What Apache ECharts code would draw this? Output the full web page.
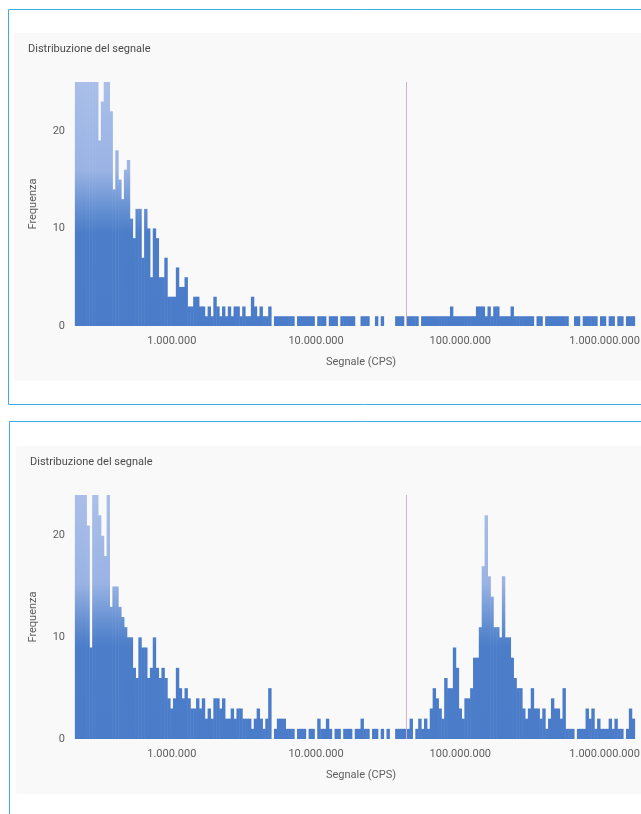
<!DOCTYPE html>
<html>
<head>
<meta charset="utf-8">
<script src="https://cdn.jsdelivr.net/npm/echarts@6/dist/echarts.min.js"></script>
<style>
  html, body { margin: 0; padding: 0; background: #ffffff; overflow: hidden; }
  #chart { width: 720px; height: 814px; }
</style>
</head>
<body>
<div id="chart"></div>
<script>
// ---- Data ----
// Histogram bins on a log10 CPS scale: bin i spans 10^(binStartLog + i*binStepLog) .. next
const binStartLog = 5.33;
const binStepLog = 0.02;

// Top panel: frequencies per bin
const topCounts = [
  25,25,25,25,25,25,25,25,
  19,23,25,25,
  22,14,18,15,13,16,17,11,
  9,12,12,7,12,10,5,10,9,5,
  5,7,3,3,3,6,4,4,5,2,
  2,3,3,2,
  2,1,2,1,3,2,
  1,2,1,2,1,2,2,1,2,1,
  1,3,2,1,2,1,1,2,0,1,
  1,1,1,1,1,1,0,1,1,1,
  1,1,1,0,1,1,1,0,1,1,
  1,0,1,1,1,1,1,0,0,1,
  1,1,0,0,1,0,1,0,0,0,
  0,1,1,1,0,1,1,1,1,0,
  1,1,1,1,1,1,1,1,1,1,
  2,1,1,1,1,1,1,1,1,2,
  2,2,1,2,1,2,2,1,1,1,
  1,2,1,1,1,1,1,1,1,0,
  1,1,0,1,1,1,1,1,1,1,
  1,0,0,1,1,0,1,1,1,1,
  1,0,1,1,0,1,1,0,1,1,
  0,1,1,1
];

// Bottom panel: frequencies per bin
const bottomCounts = [
  24,24,24,24,21,9,24,24,22,20,
  18,24,13,15,15,13,12,11,10,10,
  7,6,10,9,9,6,7,10,7,6,
  7,6,4,3,4,7,5,4,5,4,
  3,3,4,3,
  4,2,3,2,4,4,
  3,4,2,2,3,2,3,3,2,2,
  2,1,2,3,2,1,2,5,0,1,
  2,2,2,1,1,1,0,1,1,1,
  0,1,1,0,2,1,1,2,1,0,
  1,1,0,1,1,1,0,1,1,2,
  1,1,0,1,1,0,1,0,1,0,
  0,1,1,1,1,1,2,0,1,2,
  1,2,1,3,5,4,3,2,6,5,
  5,9,7,3,2,4,4,5,8,8,
  11,17,22,16,14,11,11,10,16,10,
  10,8,6,5,5,3,2,3,5,3,
  3,2,3,1,2,4,3,3,2,5,
  1,1,1,0,1,1,1,3,2,3,
  1,2,1,1,1,2,1,2,1,1,
  0,1,3,2
];

// Threshold marker (CPS)
const thresholdCps = 42000000;

// Axis ticks
const xTickValues = [1000000, 10000000, 100000000, 1000000000];
const xTickLabels = ['1.000.000', '10.000.000', '100.000.000', '1.000.000.000'];
const yTickLabels = ['0', '10', '20'];

const titleText = 'Distribuzione del segnale';
const xAxisName = 'Segnale (CPS)';
const yAxisName = 'Frequenza';

// ---- Build ----
function binCenter(i) { return Math.pow(10, binStartLog + binStepLog * (i + 0.5)); }
function toPairs(counts) { return counts.map((c, i) => [binCenter(i), c]); }

function xLabelFormatter(v) {
  const lv = Math.log10(v);
  const idx = xTickValues.findIndex(t => Math.abs(Math.log10(t) - lv) < 1e-6);
  return idx >= 0 ? xTickLabels[idx] : '';
}
function yLabelFormatter(v) {
  const s = String(Math.round(v));
  return yTickLabels.indexOf(s) >= 0 ? s : '';
}

const FONT = 'Roboto, "Noto Sans", sans-serif';
const textGrey = '#5e5e5e';

function barGradient(y0, y1) {
  return {
    type: 'linear', x: 0, y: y0, x2: 0, y2: y1, global: true,
    colorStops: [
      { offset: 0, color: '#a9bfe9' },
      { offset: 0.36, color: '#9ab3e4' },
      { offset: 0.52, color: '#6590d2' },
      { offset: 0.62, color: '#4b7dc9' },
      { offset: 1, color: '#4a7cc9' }
    ]
  };
}

const grids = [
  { left: 74, top: 82, width: 574, height: 244 },
  { left: 74, top: 495, width: 574, height: 244 }
];

function xAxisFor(gi) {
  return {
    type: 'log', logBase: 10, gridIndex: gi,
    min: 210000, max: 2000000000,
    name: xAxisName, nameLocation: 'middle', nameGap: 31,
    nameTextStyle: { color: textGrey, fontSize: 11, fontFamily: FONT },
    axisLine: { show: false }, axisTick: { show: false },
    splitLine: { show: false }, minorTick: { show: false }, minorSplitLine: { show: false },
    axisLabel: { color: textGrey, fontSize: 11, fontFamily: FONT, margin: 10,
      formatter: xLabelFormatter, showMinLabel: false, showMaxLabel: false }
  };
}
function yAxisFor(gi, max) {
  return {
    type: 'value', gridIndex: gi, min: 0, max: max, interval: 10,
    name: yAxisName, nameLocation: 'middle', nameGap: 35,
    nameTextStyle: { color: textGrey, fontSize: 11, fontFamily: FONT },
    axisLine: { show: false }, axisTick: { show: false }, splitLine: { show: false },
    axisLabel: { color: textGrey, fontSize: 11, fontFamily: FONT, margin: 9,
      formatter: yLabelFormatter, showMaxLabel: false }
  };
}
function barSeries(gi, counts) {
  const g = grids[gi];
  return {
    type: 'bar', xAxisIndex: gi, yAxisIndex: gi,
    data: toPairs(counts), barWidth: 3.4, clip: true,
    itemStyle: { color: barGradient(g.top, g.top + g.height) },
    emphasis: { disabled: true },
    markLine: {
      silent: true, symbol: 'none', animation: false,
      label: { show: false },
      lineStyle: { color: '#cfb2c9', width: 1, type: 'solid', opacity: 1 },
      data: [{ xAxis: thresholdCps }]
    }
  };
}

const chart = echarts.init(document.getElementById('chart'), null, { renderer: 'canvas' });
chart.setOption({
  animation: false,
  backgroundColor: '#ffffff',
  textStyle: { fontFamily: FONT },
  graphic: [
    { type: 'rect', z: -10, shape: { x: 14, y: 33, width: 800, height: 348 }, style: { fill: '#f9f9f9' } },
    { type: 'rect', z: -9, shape: { x: 8.5, y: 9.5, width: 800, height: 395 }, style: { fill: null, stroke: '#3aaee6', lineWidth: 1 } },
    { type: 'rect', z: -10, shape: { x: 16, y: 446, width: 800, height: 348 }, style: { fill: '#f9f9f9' } },
    { type: 'rect', z: -9, shape: { x: 9.5, y: 421.5, width: 800, height: 500 }, style: { fill: null, stroke: '#3aaee6', lineWidth: 1 } }
  ],
  title: [
    { text: titleText, left: 23, top: 39, textStyle: { color: '#4a4a4a', fontSize: 11, fontWeight: 'normal', fontFamily: FONT } },
    { text: titleText, left: 25, top: 452, textStyle: { color: '#4a4a4a', fontSize: 11, fontWeight: 'normal', fontFamily: FONT } }
  ],
  grid: grids,
  xAxis: [xAxisFor(0), xAxisFor(1)],
  yAxis: [yAxisFor(0, 25), yAxisFor(1, 24)],
  series: [barSeries(0, topCounts), barSeries(1, bottomCounts)]
});
</script>
</body>
</html>
